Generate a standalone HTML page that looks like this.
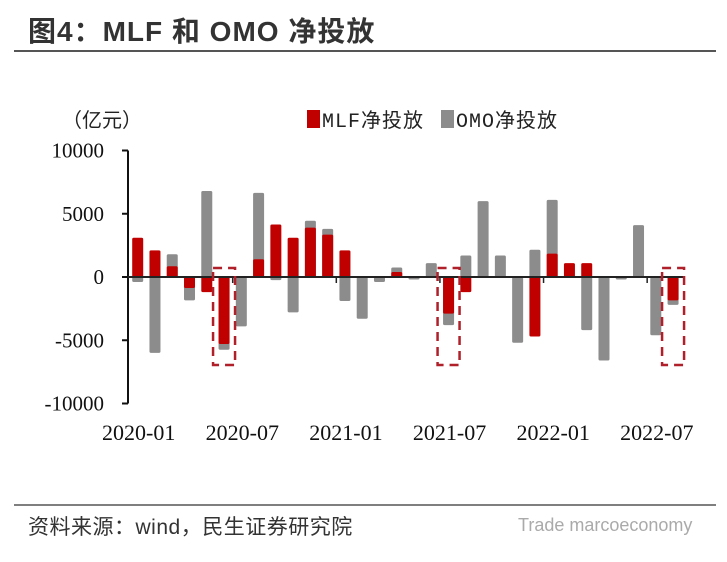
<!DOCTYPE html>
<html><head><meta charset="utf-8"><style>
body{margin:0;background:#fff;width:727px;height:557px;overflow:hidden;font-family:"Liberation Sans","Noto Sans CJK SC",sans-serif;}
</style></head><body>
<svg width="727" height="557" xmlns="http://www.w3.org/2000/svg">
<text x="28" y="41" font-size="28" font-weight="bold" fill="#333" letter-spacing="1" font-family="Liberation Sans, Noto Sans CJK SC, sans-serif">图4：MLF 和 OMO 净投放</text>
<line x1="14" y1="51" x2="716" y2="51" stroke="#555" stroke-width="2"/>
<line x1="14" y1="505" x2="716" y2="505" stroke="#555" stroke-width="1.5"/>
<text x="28" y="534" font-size="21" fill="#333" letter-spacing="0.5" font-family="Liberation Sans, Noto Sans CJK SC, sans-serif">资料来源：wind，民生证券研究院</text>
<text x="518" y="531" font-size="18" fill="#aaa">Trade marcoeconomy</text>
<text x="62" y="127" font-size="20" fill="#222" font-family="Liberation Sans, Noto Sans CJK SC, sans-serif">（亿元）</text>
<g>
<rect x="307" y="110" width="13" height="18" fill="#c00000"/>
<text x="322" y="127" font-size="20" fill="#222" letter-spacing="1" font-family="Liberation Mono, Noto Sans CJK SC, monospace">MLF净投放</text>
<rect x="441" y="110" width="13" height="18" fill="#8c8c8c"/>
<text x="456" y="127" font-size="20" fill="#222" letter-spacing="1" font-family="Liberation Mono, Noto Sans CJK SC, monospace">OMO净投放</text>
</g>
<g id="plot"></g>
</svg>
<script>
const months = ["2020-01","2020-02","2020-03","2020-04","2020-05","2020-06","2020-07","2020-08","2020-09","2020-10","2020-11","2020-12","2021-01","2021-02","2021-03","2021-04","2021-05","2021-06","2021-07","2021-08","2021-09","2021-10","2021-11","2021-12","2022-01","2022-02","2022-03","2022-04","2022-05","2022-06","2022-07","2022-08"];
const mlf = [3100,2100,850,-870,-1200,-5300,0,1400,4150,3100,3900,3350,2100,0,0,400,0,0,-2900,-1200,0,0,0,-4700,1850,1100,1100,0,0,0,0,-1850];
const omo = [-400,-6000,1800,-1850,6800,-5750,-3900,6650,-250,-2800,4450,3800,-1900,-3300,-400,750,-200,1100,-3800,1700,6000,1700,-5200,2150,6100,0,-4200,-6600,-200,4100,-4600,-2200];
const yTicks = [10000,5000,0,-5000,-10000];
const xLabels = ["2020-01","2020-07","2021-01","2021-07","2022-01","2022-07"];
const highlight = ["2020-06","2021-07","2022-08"];

const NS="http://www.w3.org/2000/svg";
const g=document.getElementById('plot');
const y0=277, pxPer=126.5/10000;
const yS=v=>y0-v*pxPer;
const x0=137.7, step=17.27;
const xS=i=>x0+i*step;
const bw=11;
function mk(t,a){const e=document.createElementNS(NS,t);for(const k in a)e.setAttribute(k,a[k]);g.appendChild(e);return e;}
let ax=mk('line',{x1:128,y1:yS(10000),x2:128,y2:yS(-10000),stroke:'#111','stroke-width':2});


yTicks.forEach(v=>{
 let t=mk('line',{x1:122,y1:yS(v),x2:128,y2:yS(v),stroke:'#111','stroke-width':2});
 
 
 let l=mk('text',{x:104,y:yS(v)+7,'text-anchor':'end','font-size':21,fill:'#111','font-family':'Liberation Serif, serif'});
 l.textContent=v;
 
 
});
months.forEach((m,i)=>{
 const cx=xS(i);
 const o=omo[i];
 if(o!==0){let r=mk('rect',{x:cx-bw/2,y:Math.min(yS(o),y0),width:bw,height:Math.abs(yS(o)-y0),fill:'#8c8c8c',rx:1.5});
 
 }
 const v=mlf[i];
 if(v!==0){let r=mk('rect',{x:cx-bw/2,y:Math.min(yS(v),y0),width:bw,height:Math.abs(yS(v)-y0),fill:'#c00000',rx:1.5});
 
 }
});
let xa=mk('line',{x1:128,y1:y0,x2:xS(months.length-1)+10,y2:y0,stroke:'#222','stroke-width':2});


xLabels.forEach(lb=>{
 const i=months.indexOf(lb);
 let l=mk('text',{x:xS(i)+1,y:440,'text-anchor':'middle','font-size':22,fill:'#111','font-family':'Liberation Serif, serif'});
 l.textContent=lb;
 
 
 if(i>0){let t=mk('line',{x1:xS(i)-step/2,y1:y0,x2:xS(i)-step/2,y2:y0+6,stroke:'#222','stroke-width':1.5});
 
 }
});
highlight.forEach(m=>{
 const i=months.indexOf(m);
 let r=mk('rect',{x:xS(i)-11,y:268,width:22,height:97,fill:'none',stroke:'#b0202a','stroke-width':2.5,'stroke-dasharray':'9,6'});
 
 
});
</script>
</body></html>
